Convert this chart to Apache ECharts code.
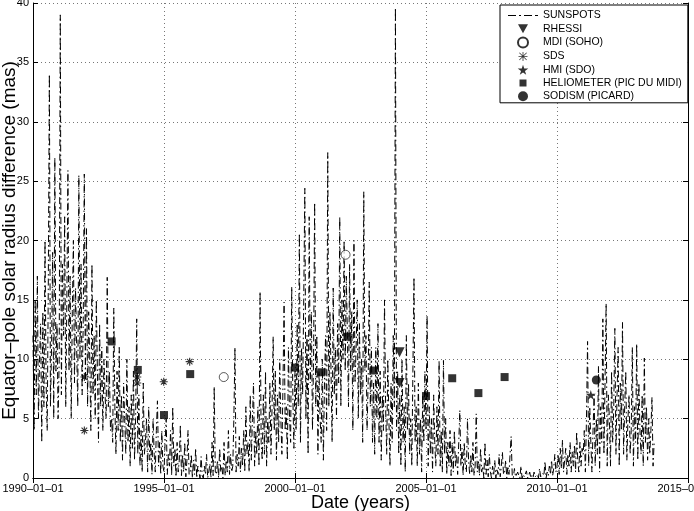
<!DOCTYPE html>
<html>
<head>
  <meta charset="utf-8">
  <title>solar radius</title>
  <style>
    html, body, #main { margin: 0; padding: 0; width: 694px; height: 511px; background: #fff; }
  </style>
  <script src="https://cdn.jsdelivr.net/npm/echarts@6/dist/echarts.min.js"></script>
</head>
<body>
<div id="main"></div>
<script>
// half-monthly sunspot-derived values, starting 1990-01
const sunStart = 1990;
const sunPerYear = 24;
const sunspots = [
  12, 4, 15, 7, 17, 5, 10, 13, 3, 14, 6, 20, 8, 4, 16, 34, 6, 11, 19, 5, 27, 9, 13, 5,                  // 1990
  10, 39, 7, 18, 12, 22, 6, 15, 25.9, 9, 17, 5, 14, 20, 8, 16, 11, 6, 25.5, 10, 18, 7, 13, 25.6,        // 1991
  8, 21, 6, 14, 10, 4, 18, 7, 12, 5, 15, 9, 3, 13, 6, 11, 4, 10, 7, 5, 16.9, 6, 9, 4,                   // 1992
  5, 3, 14.3, 6, 2, 9, 4, 11, 3, 7, 1.5, 8, 5, 2, 10, 3, 6, 1, 7, 2.5, 9, 1.5, 5, 13.4,                 // 1993
  2, 7, 1, 4, 0.5, 8, 2, 3, 5, 0.5, 6, 1.5, 3, 0.3, 5, 2, 0.5, 4, 6.5, 1, 3, 0.3, 4, 1,                 // 1994
  0.5, 3, 5, 0.3, 2, 1, 4, 0.2, 6, 1, 2.5, 0.1, 3, 0.5, 1.5, 4.5, 0.2, 2, 0.5, 3, 0.1, 1.5, 4, 0.3,     // 1995
  0.5, 2, 0, 1.5, 0.3, 2.5, 0, 1, 0.5, 0, 1.8, 0.2, 0, 1, 0.3, 2, 0, 0.5, 1.2, 0, 3, 0.2, 7.7, 0.5,     // 1996
  0.3, 1.5, 0, 2.5, 0.5, 1, 0, 3, 0.2, 1.5, 0.5, 4, 0.3, 2, 0.5, 1, 5, 11, 0.5, 2, 1, 3.5, 0.5, 2.5,    // 1997
  1, 4, 0.5, 6, 2, 3, 0.5, 7, 1.5, 5, 8, 1, 4, 2, 6, 1, 15.7, 3, 1.5, 7, 2, 9, 1, 5,                    // 1998
  3, 8, 2, 6, 11.9, 4, 9, 1.5, 7, 3, 10, 5, 2, 8, 14.8, 4, 6, 1.5, 11, 5, 3, 16.1, 7, 2.5,              // 1999
  9, 4, 13, 6, 20.6, 3, 11, 7, 15, 24.4, 5, 12, 2, 22, 8, 14, 4, 10, 23.2, 6, 12, 2, 9, 5,              // 2000
  3, 10, 1.5, 8, 12, 4, 27.4, 6, 14, 9, 3, 16, 7, 11, 5, 13, 8, 22, 6, 15, 10, 20, 9, 17,               // 2001
  12, 6, 18, 9, 14, 4, 20, 8, 11, 15, 5, 13, 7, 10, 3, 24.1, 9, 12, 4, 8, 16.5, 6, 11, 3,               // 2002
  8, 2, 11, 5, 13, 3, 9, 1.5, 7, 4, 15, 6, 2, 10, 5, 1, 8, 3, 12, 6, 39.6, 4, 9, 2,                     // 2003
  7, 1, 10, 3, 6, 0.5, 12, 4, 8, 2, 5, 1, 9, 16.9, 3, 6, 1, 8, 2, 5, 0.5, 7, 3, 9,                      // 2004
  4, 13.7, 1, 6, 2, 5, 0.5, 7, 3, 1, 6, 2, 9.9, 1, 4, 0.5, 9.9, 2, 5, 0.3, 3, 1, 4, 0.2,                // 2005
  3, 0.5, 4, 1, 2, 0.3, 3, 5.7, 1, 2.5, 0.2, 3, 1, 0.5, 5, 1.5, 0.3, 2, 0.5, 3, 0.2, 1, 5.4, 0.5,       // 2006
  1.5, 0.2, 2.5, 0.5, 1, 0, 3, 0.3, 1.5, 0.1, 2, 0.5, 0, 1, 0.2, 1.5, 0, 0.8, 0.3, 2, 0.1, 1, 2.2, 0.3, // 2007
  0.5, 1.5, 0, 1, 0.3, 2, 3.5, 0.2, 0, 0.8, 0.1, 0, 0.5, 0.2, 0, 1, 0, 0.3, 0.1, 0, 0.6, 0, 0.2, 0.5,   // 2008
  0, 0.2, 0, 0.5, 0.1, 0, 0.3, 0, 0.8, 0.1, 0, 0.4, 0.2, 1.4, 0, 0.5, 0.2, 1, 0.3, 1.5, 0.2, 0.8, 2, 0.5, // 2009
  1, 2, 0.3, 2.5, 0.8, 3.2, 0.5, 1.5, 2.5, 0.3, 2, 1, 3, 0.5, 2.2, 1, 2.8, 0.5, 3.9, 1.5, 0.5, 3, 1, 2.5, // 2010
  2, 4, 0.5, 5, 11.5, 1, 6, 3, 0.5, 4, 7, 1, 5, 2, 9.4, 0.5, 6, 3, 13.4, 2, 8, 14.7, 1, 7,              // 2011
  5, 1, 9, 3, 6, 12.6, 2, 7, 11, 1, 8, 4, 13.1, 2, 6, 9, 1.5, 5, 7, 2, 4, 11, 1, 6,                     // 2012
  3, 11.3, 1.5, 8, 4, 2, 7, 1, 10.1, 3, 6, 1.5, 5, 2, 4, 6.8, 1, 3                                      // 2013
];

const rhessiYears = [2003.99, 2003.99];
const rhessiVals = [10.6, 8.0];
const mdiYears = [1997.28, 2001.93];
const mdiVals = [8.5, 18.8];
const sdsYears = [1991.96, 1991.96, 1993.98, 1993.98, 1994.99, 1995.98];
const sdsVals = [8.5, 4.0, 8.5, 8.0, 8.1, 9.8];
const hmiYears = [2011.29];
const hmiVals = [7.0];
const heliometerYears = [1993.0, 1994.0, 1995.0, 1996.0, 2000.0, 2001.0, 2002.0, 2003.0, 2005.0, 2006.0, 2007.0, 2008.0];
const heliometerVals = [11.5, 9.1, 5.3, 8.75, 9.3, 8.9, 11.9, 9.05, 6.9, 8.4, 7.15, 8.5];
const sodismYears = [2011.5];
const sodismVals = [8.25];

const pairs = (xs, ys) => xs.map((x, i) => [x, ys[i]]);
const sunData = sunspots.map((v, i) => [sunStart + i / sunPerYear, v]);

const font = 'Liberation Sans, Arial, sans-serif';
const starPath = 'path://M50,0 L61,35 L98,35 L68,57 L79,91 L50,70 L21,91 L32,57 L2,35 L39,35 Z';
const asteriskPath = 'path://M50,0 L50,100 M0,50 L100,50 M15,15 L85,85 M85,15 L15,85';

// legend icons drawn in a 30x10 box (tiny corner specks fix the box)
const box = 'M0,0 L0.01,0 L0,0.01 Z M30,10 L29.99,10 L30,9.99 Z ';
const dashDotIcon = 'path://' + box + 'M0,4.5 H8 V5.5 H0 Z M11,4.5 H13 V5.5 H11 Z M16,4.5 H24 V5.5 H16 Z M27,4.5 H30 V5.5 H27 Z';
const downTriIcon = 'path://' + box + 'M10,0.5 H20 L15,9.5 Z';
const squareIcon = 'path://' + box + 'M11.5,1.5 H18.5 V8.5 H11.5 Z';
const asteriskIcon = 'path://' + box + 'M14.6,0.5 H15.4 V9.5 H14.6 Z M10.5,4.6 H19.5 V5.4 H10.5 Z ' +
  'M11.6,1.1 L18.9,8.4 L18.4,8.9 L11.1,1.6 Z M18.4,1.1 L18.9,1.6 L11.6,8.9 L11.1,8.4 Z';

const chart = echarts.init(document.getElementById('main'));

const scatter = (name, data, symbol, size, extra) => Object.assign({
  name: name,
  type: 'scatter',
  data: data,
  symbol: symbol,
  symbolSize: size,
  itemStyle: { color: '#000' },
  z: 5
}, extra || {});

chart.setOption({
  animation: false,
  backgroundColor: '#fff',
  grid: { left: 33, right: 6, top: 3, bottom: 33, outerBoundsMode: 'none', containLabel: false },
  legend: {
    orient: 'vertical',
    left: 500,
    top: 5,
    padding: [5, 6, 1, 8],
    itemWidth: 30,
    itemHeight: 10,
    itemGap: 2.3,
    backgroundColor: '#fff',
    borderColor: '#000',
    borderWidth: 1,
    borderRadius: 0,
    textStyle: { fontFamily: font, fontSize: 10.5, color: '#000' },
    data: [
      { name: 'SUNSPOTS', icon: dashDotIcon, itemStyle: { color: '#000' } },
      { name: 'RHESSI', icon: downTriIcon },
      'MDI (SOHO)',
      { name: 'SDS', icon: asteriskIcon, itemStyle: { color: '#000', borderWidth: 0 } },
      'HMI (SDO)',
      { name: 'HELIOMETER (PIC DU MIDI)', icon: squareIcon },
      'SODISM (PICARD)'
    ]
  },
  xAxis: [{
    type: 'value',
    min: 1990, max: 2015, interval: 5,
    name: 'Date (years)',
    nameLocation: 'middle',
    nameGap: 16,
    nameMoveOverlap: false,
    nameTextStyle: { fontFamily: font, fontSize: 18, color: '#000' },
    axisLine: { lineStyle: { color: '#000', width: 1 } },
    axisTick: { inside: true, length: 5, lineStyle: { color: '#000' } },
    axisLabel: {
      fontFamily: font, fontSize: 11, color: '#000', margin: 5,
      formatter: v => v + '–01–01'
    },
    splitLine: { show: true, lineStyle: { color: '#777', width: 1, type: [1, 3] } }
  }, {
    type: 'value', position: 'top',
    min: 1990, max: 2015, interval: 5,
    axisLine: { lineStyle: { color: '#000', width: 1 } },
    axisTick: { inside: true, length: 5, lineStyle: { color: '#000' } },
    axisLabel: { show: false },
    splitLine: { show: false }
  }],
  yAxis: [{
    type: 'value',
    min: 0, max: 40, interval: 5,
    name: 'Equator–pole solar radius difference (mas)',
    nameLocation: 'middle',
    nameGap: 14,
    nameMoveOverlap: false,
    nameTextStyle: { fontFamily: font, fontSize: 19, color: '#000' },
    axisLine: { show: true, lineStyle: { color: '#000', width: 1 } },
    axisTick: { show: true, inside: true, length: 5, lineStyle: { color: '#000' } },
    axisLabel: { fontFamily: font, fontSize: 11, color: '#000', margin: 4 },
    splitLine: { show: true, lineStyle: { color: '#777', width: 1, type: [1, 3] } }
  }, {
    type: 'value', position: 'right',
    min: 0, max: 40, interval: 5,
    axisLine: { show: true, lineStyle: { color: '#000', width: 1 } },
    axisTick: { show: true, inside: true, length: 5, lineStyle: { color: '#000' } },
    axisLabel: { show: false },
    splitLine: { show: false }
  }],
  series: [
    {
      name: 'SUNSPOTS',
      type: 'line',
      data: sunData,
      showSymbol: false,
      symbol: 'none',
      lineStyle: { color: '#000', width: 1, type: [7, 3, 1.5, 3] },
      itemStyle: { color: '#000' },
      z: 2
    },
    scatter('RHESSI', pairs(rhessiYears, rhessiVals), 'triangle', 10, { symbolRotate: 180 }),
    scatter('MDI (SOHO)', pairs(mdiYears, mdiVals), 'circle', 9,
      { itemStyle: { color: '#fff', borderColor: '#000', borderWidth: 0.8 } }),
    scatter('SDS', pairs(sdsYears, sdsVals), asteriskPath, 8,
      { itemStyle: { color: '#000', borderColor: '#000', borderWidth: 1.1 } }),
    scatter('HMI (SDO)', pairs(hmiYears, hmiVals), starPath, 10),
    scatter('HELIOMETER (PIC DU MIDI)', pairs(heliometerYears, heliometerVals), 'rect', 8),
    scatter('SODISM (PICARD)', pairs(sodismYears, sodismVals), 'circle', 9)
  ]
});
</script>
</body>
</html>
